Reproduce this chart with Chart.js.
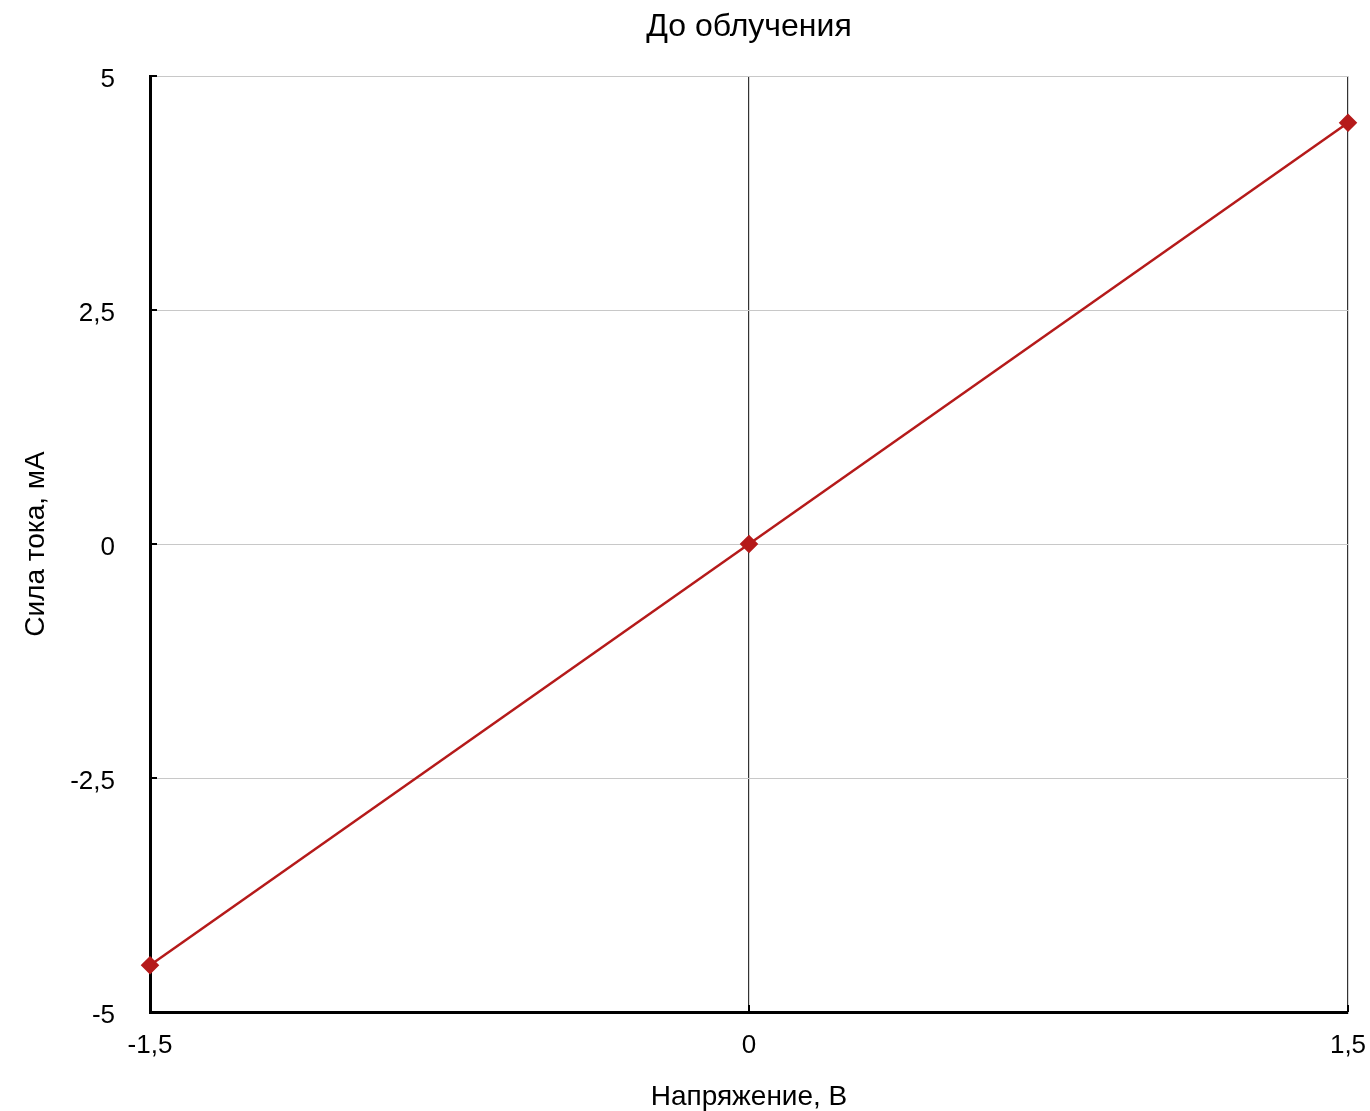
<!DOCTYPE html>
<html>
<head>
<meta charset="utf-8">
<script src="https://cdn.jsdelivr.net/npm/chart.js@4/dist/chart.umd.min.js"></script>
<style>
  html, body { margin: 0; padding: 0; background: #ffffff; }
  #wrap { width: 1370px; height: 1111px; }
</style>
</head>
<body>
<div id="wrap"><canvas id="chart" width="1370" height="1111"></canvas></div>
<script>
// Вольт-амперная характеристика до облучения
const voltage = [-1.5, 0, 1.5];      // В
const current = [-4.5, 0, 4.5];      // мА
const xTicks = [-1.5, 0, 1.5];
const yTicks = [-5, -2.5, 0, 2.5, 5];

const chartTitle = 'До облучения';
const xTitle = 'Напряжение, В';
const yTitle = 'Сила тока, мА';

const FONT = '"Liberation Sans", Arial, Helvetica, sans-serif';
const fmt = v => String(v).replace('.', ',');

// Short tick marks pointing into the plot area
const inwardTicks = {
  id: 'inwardTicks',
  afterDatasetsDraw(chart) {
    const { ctx, chartArea, scales } = chart;
    const len = 7;
    ctx.save();
    ctx.strokeStyle = '#000';
    ctx.lineWidth = 2;
    ctx.beginPath();
    yTicks.forEach(v => {
      const y = Math.round(scales.y.getPixelForValue(v));
      ctx.moveTo(chartArea.left, y);
      ctx.lineTo(chartArea.left + len, y);
    });
    xTicks.forEach(v => {
      const x = Math.round(scales.x.getPixelForValue(v));
      ctx.moveTo(x, chartArea.bottom);
      ctx.lineTo(x, chartArea.bottom - len);
    });
    ctx.stroke();
    ctx.restore();
  }
};

const data = {
  datasets: [{
    data: voltage.map((v, i) => ({ x: v, y: current[i] })),
    showLine: true,
    borderColor: '#b51a1a',
    backgroundColor: '#b51a1a',
    borderWidth: 2.5,
    pointStyle: 'rectRot',
    pointRadius: 7.5,
    pointHoverRadius: 7.5,
    tension: 0,
    clip: false
  }]
};

new Chart(document.getElementById('chart'), {
  type: 'scatter',
  data,
  plugins: [inwardTicks],
  options: {
    responsive: false,
    animation: false,
    layout: { padding: { left: 19, right: 22, top: 0, bottom: 0 } },
    plugins: {
      legend: { display: false },
      tooltip: { enabled: false },
      title: {
        display: true,
        fullSize: false,
        text: chartTitle,
        color: '#000',
        font: { family: FONT, size: 32, weight: 'normal' },
        padding: { top: 8, bottom: 29.6 }
      }
    },
    scales: {
      x: {
        type: 'linear',
        min: xTicks[0],
        max: xTicks[xTicks.length - 1],
        afterBuildTicks: s => { s.ticks = xTicks.map(v => ({ value: v })); },
        afterFit: s => { s.height = 99; s.paddingLeft = 0; s.paddingRight = 0; },
        ticks: {
          color: '#000',
          padding: 18,
          maxRotation: 0,
          font: { family: FONT, size: 26 },
          callback: v => fmt(v)
        },
        grid: { color: '#333333', lineWidth: 1.2, drawTicks: false },
        border: { color: '#000', width: 3 },
        title: {
          display: true,
          text: xTitle,
          color: '#000',
          font: { family: FONT, size: 28 },
          padding: { top: 0, bottom: -3 }
        }
      },
      y: {
        type: 'linear',
        min: yTicks[0],
        max: yTicks[yTicks.length - 1],
        afterBuildTicks: s => { s.ticks = yTicks.map(v => ({ value: v })); },
        afterFit: s => { s.width = 131; s.paddingTop = 0; s.paddingBottom = 0; },
        ticks: {
          color: '#000',
          padding: 35,
          labelOffset: 4,
          font: { family: FONT, size: 26 },
          callback: v => fmt(v)
        },
        grid: { color: '#c8c8c8', lineWidth: 1, drawTicks: false },
        border: { color: '#000', width: 3 },
        title: {
          display: true,
          text: yTitle,
          color: '#000',
          font: { family: FONT, size: 28 },
          padding: { top: 0, bottom: 19 }
        }
      }
    }
  }
});
</script>
</body>
</html>
